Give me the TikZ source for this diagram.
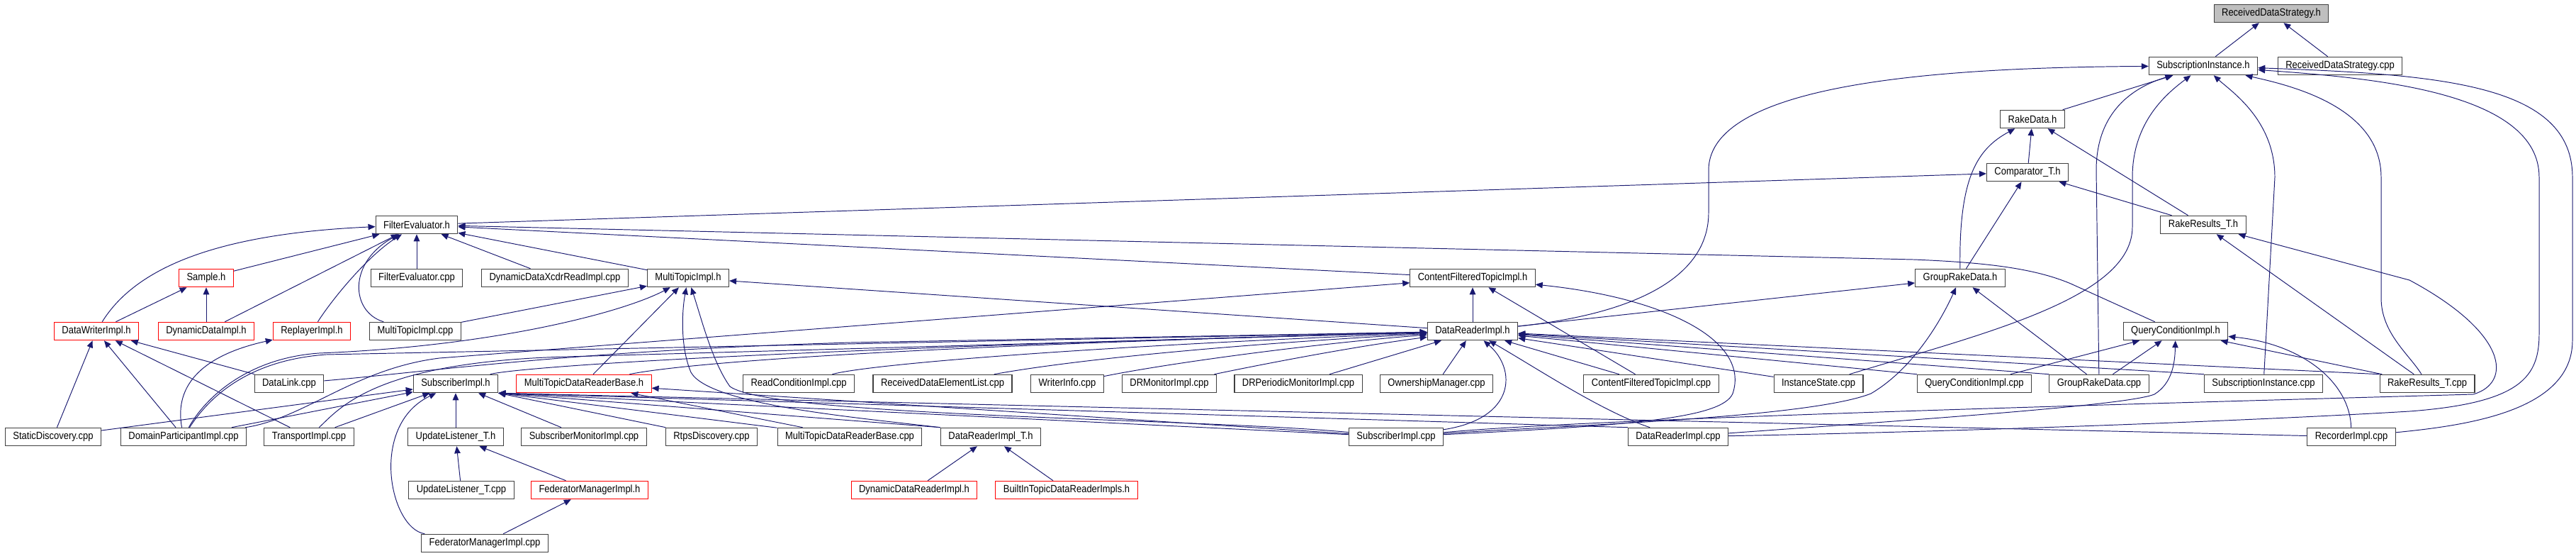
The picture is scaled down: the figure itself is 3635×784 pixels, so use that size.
\documentclass[tikz,border=0pt]{standalone}
\usepackage{fontspec}
\setmainfont[FakeStretch=0.88]{Liberation Sans}
\usepackage{xcolor}
\usetikzlibrary{arrows.meta}
\definecolor{edgeblue}{HTML}{191970}

\begin{document}
\begin{tikzpicture}[x=0.02cm, y=-0.02cm,
    box/.style={rectangle, draw=black!75, line width=0.6pt, fill=white, minimum height=0.51cm, inner xsep=0.22cm, inner ysep=0pt, font=\fontsize{8.4}{10}\selectfont},
    redbox/.style={box, draw=red},
    graybox/.style={box, fill=black!25},
    inc/.style={draw=edgeblue, line width=0.55pt, -{Triangle[length=0.2cm, width=0.17cm]}}]
    \useasboundingbox (0,0) rectangle (3635,784);

    \node[graybox] (rdsh) at (3205,19) {ReceivedDataStrategy.h};
    \node[box] (sih) at (3109,93) {SubscriptionInstance.h};
    \node[box] (rdscpp) at (3302,93) {ReceivedDataStrategy.cpp};
    \node[box] (rakeh) at (2868,168) {RakeData.h};
    \node[box] (comph) at (2861,243) {Comparator\_T.h};
    \node[box] (feh) at (588,317) {FilterEvaluator.h};
    \node[box] (rrh) at (3109,317) {RakeResults\_T.h};
    \node[redbox] (sampleh) at (291,392) {Sample.h};
    \node[box] (fecpp) at (588,392) {FilterEvaluator.cpp};
    \node[box] (xcdrcpp) at (783,392) {DynamicDataXcdrReadImpl.cpp};
    \node[box] (mth) at (971,392) {MultiTopicImpl.h};
    \node[box] (cfth) at (2078,392) {ContentFilteredTopicImpl.h};
    \node[box] (grdh) at (2766,392) {GroupRakeData.h};
    \node[redbox] (dwih) at (136,467) {DataWriterImpl.h};
    \node[redbox] (ddih) at (291,467) {DynamicDataImpl.h};
    \node[redbox] (replh) at (440,467) {ReplayerImpl.h};
    \node[box] (mtcpp) at (586,467) {MultiTopicImpl.cpp};
    \node[box] (drih) at (2078,467) {DataReaderImpl.h};
    \node[box] (qcih) at (3070,467) {QueryConditionImpl.h};
    \node[box] (dlcpp) at (408,541) {DataLink.cpp};
    \node[box] (subh) at (643,541) {SubscriberImpl.h};
    \node[redbox] (mtdrbh) at (824,541) {MultiTopicDataReaderBase.h};
    \node[box] (rccpp) at (1127,541) {ReadConditionImpl.cpp};
    \node[box] (rdelcpp) at (1330,541) {ReceivedDataElementList.cpp};
    \node[box] (wicpp) at (1506,541) {WriterInfo.cpp};
    \node[box] (drmcpp) at (1650,541) {DRMonitorImpl.cpp};
    \node[box] (drpmcpp) at (1832,541) {DRPeriodicMonitorImpl.cpp};
    \node[box] (omcpp) at (2027,541) {OwnershipManager.cpp};
    \node[box] (cftcpp) at (2330,541) {ContentFilteredTopicImpl.cpp};
    \node[box] (iscpp) at (2566,541) {InstanceState.cpp};
    \node[box] (qcicpp) at (2786,541) {QueryConditionImpl.cpp};
    \node[box] (grdcpp) at (2962,541) {GroupRakeData.cpp};
    \node[box] (sicpp) at (3194,541) {SubscriptionInstance.cpp};
    \node[box] (rrcpp) at (3425,541) {RakeResults\_T.cpp};
    \node[box] (sdcpp) at (75,616) {StaticDiscovery.cpp};
    \node[box] (dpicpp) at (259,616) {DomainParticipantImpl.cpp};
    \node[box] (ticpp) at (436,616) {TransportImpl.cpp};
    \node[box] (ulh) at (643,616) {UpdateListener\_T.h};
    \node[box] (smcpp) at (824,616) {SubscriberMonitorImpl.cpp};
    \node[box] (rtpscpp) at (1004,616) {RtpsDiscovery.cpp};
    \node[box] (mtdrbcpp) at (1199,616) {MultiTopicDataReaderBase.cpp};
    \node[box] (dritah) at (1398,616) {DataReaderImpl\_T.h};
    \node[box] (subcpp) at (1970,616) {SubscriberImpl.cpp};
    \node[box] (dricpp) at (2368,616) {DataReaderImpl.cpp};
    \node[box] (reccpp) at (3318,616) {RecorderImpl.cpp};
    \node[box] (ulcpp) at (651,691) {UpdateListener\_T.cpp};
    \node[redbox] (fmh) at (832,691) {FederatorManagerImpl.h};
    \node[redbox] (ddrh) at (1290,691) {DynamicDataReaderImpl.h};
    \node[redbox] (bitdrh) at (1505,691) {BuiltInTopicDataReaderImpls.h};
    \node[box] (fmcpp) at (684,766) {FederatorManagerImpl.cpp};

    \draw[inc] (sih) -- (rdsh);
    \draw[inc] (rdscpp) -- (rdsh);
    \draw[inc] (rakeh) -- (sih);
    \draw[inc] (drih) .. controls (2330,440) and (2411,380) .. (2411,300) -- (2411,240) .. controls (2411,115) and (2750,95) .. (sih);
    \draw[inc] (grdcpp) -- (2958,240) .. controls (2958,150) and (3020,120) .. (sih);
    \draw[inc] (iscpp) .. controls (2800,470) and (3009,420) .. (3009,320) -- (3009,250) .. controls (3009,170) and (3060,130) .. (sih);
    \draw[inc] (sicpp) -- (3210,250) .. controls (3210,170) and (3150,130) .. (sih);
    \draw[inc] (rrcpp) .. controls (3400,500) and (3360,470) .. (3360,420) -- (3360,250) .. controls (3360,150) and (3230,120) .. (sih);
    \draw[inc] (dricpp) .. controls (2800,608) and (3200,592) .. (3400,580) .. controls (3560,568) and (3583,530) .. (3583,470) -- (3583,250) .. controls (3583,130) and (3350,110) .. (sih);
    \draw[inc] (reccpp) .. controls (3480,600) and (3630,580) .. (3630,480) -- (3630,250) .. controls (3630,120) and (3450,105) .. (sih);

    \draw[inc] (comph) -- (rakeh);
    \draw[inc] (grdh) .. controls (2764,250) and (2790,210) .. (rakeh);
    \draw[inc] (rrh) -- (rakeh);
    \draw[inc] (grdh) -- (comph);
    \draw[inc] (rrh) -- (comph);
    \draw[inc] (feh) -- (comph);
    \draw[inc] (rrcpp) -- (rrh);
    \draw[inc] (subcpp) .. controls (2250,590) and (3000,570) .. (3490,556) .. controls (3545,540) and (3540,470) .. (3400,395) -- (rrh);

    \draw[inc] (sampleh) -- (feh);
    \draw[inc] (dwih) .. controls (190,380) and (300,330) .. (feh);
    \draw[inc] (dwih) -- (sampleh);
    \draw[inc] (ddih) -- (sampleh);
    \draw[inc] (ddih) -- (feh);
    \draw[inc] (replh) .. controls (470,420) and (520,360) .. (feh);
    \draw[inc] (mtcpp) .. controls (495,440) and (490,370) .. (feh);
    \draw[inc] (fecpp) -- (feh);
    \draw[inc] (xcdrcpp) -- (feh);
    \draw[inc] (mth) -- (feh);
    \draw[inc] (cfth) -- (feh);
    \draw[inc] (qcih) -- (2922,400) .. controls (2870,378) and (2800,370) .. (2700,366) -- (feh);

    \draw[inc] (sdcpp) -- (dwih);
    \draw[inc] (dpicpp) -- (dwih);
    \draw[inc] (ticpp) -- (dwih);
    \draw[inc] (dlcpp) -- (dwih);
    \draw[inc] (dpicpp) .. controls (245,540) and (290,500) .. (replh);
    \draw[inc] (dpicpp) .. controls (290,560) and (350,505) .. (450,498) .. controls (700,488) and (880,440) .. (mth);
    \draw[inc] (dpicpp) .. controls (430,590) and (500,520) .. (620,505) -- (cfth);
    \draw[inc] (dpicpp) .. controls (295,560) and (350,508) .. (460,500) -- (drih);
    \draw[inc] (dpicpp) -- (subh);
    \draw[inc] (ticpp) -- (subh);
    \draw[inc] (sdcpp) -- (subh);
    \draw[inc] (ticpp) .. controls (480,575) and (530,510) .. (800,503) -- (drih);
    \draw[inc] (dlcpp) .. controls (600,525) and (800,495) .. (1200,483) -- (drih);

    \draw[inc] (subh) .. controls (720,520) and (1000,495) .. (drih);
    \draw[inc] (mtdrbh) .. controls (950,515) and (1200,490) .. (drih);
    \draw[inc] (mtdrbh) -- (mth);
    \draw[inc] (rccpp) .. controls (1220,515) and (1500,490) .. (drih);
    \draw[inc] (rdelcpp) .. controls (1500,510) and (1700,488) .. (drih);
    \draw[inc] (wicpp) .. controls (1650,512) and (1850,485) .. (drih);
    \draw[inc] (drmcpp) .. controls (1760,518) and (1900,490) .. (drih);
    \draw[inc] (drpmcpp) -- (drih);
    \draw[inc] (omcpp) -- (drih);
    \draw[inc] (subcpp) .. controls (2140,590) and (2140,520) .. (drih);
    \draw[inc] (dricpp) .. controls (2260,580) and (2170,520) .. (drih);
    \draw[inc] (cftcpp) -- (drih);
    \draw[inc] (cftcpp) -- (cfth);
    \draw[inc] (iscpp) -- (drih);
    \draw[inc] (qcicpp.north west) -- (drih);
    \draw[inc] (grdcpp.north west) -- (drih);
    \draw[inc] (sicpp.north west) -- (drih);
    \draw[inc] (rrcpp.north west) -- (drih);
    \draw[inc] (drih) -- (mth);
    \draw[inc] (drih) -- (cfth);
    \draw[inc] (drih) -- (grdh);
    \draw[inc] (grdcpp) -- (grdh);
    \draw[inc] (subcpp) .. controls (2200,600) and (2550,590) .. (2640,555) .. controls (2700,520) and (2740,450) .. (grdh);
    \draw[inc] (subcpp) .. controls (2300,600) and (2430,590) .. (2445,555) .. controls (2470,480) and (2350,420) .. (cfth);
    \draw[inc] (subcpp) .. controls (1700,590) and (1090,588) .. (1030,545) .. controls (1005,510) and (990,450) .. (mth);
    \draw[inc] (dritah.north west) .. controls (1200,588) and (1000,570) .. (975,525) .. controls (960,490) and (962,440) .. (mth);

    \draw[inc] (dritah.north west) -- (subh.south east);
    \draw[inc] (mtdrbcpp) -- (subh.south east);
    \draw[inc] (rtpscpp) -- (subh.south east);
    \draw[inc] (subcpp) -- (subh.south east);
    \draw[inc] (dricpp.north west) -- (subh.south east);
    \draw[inc] (reccpp) -- (subh.south east);
    \draw[inc] (smcpp) -- (subh);
    \draw[inc] (ulh) -- (subh);
    \draw[inc] (fmcpp) .. controls (550,745) and (520,600) .. (subh);
    \draw[inc] (ulcpp) -- (ulh);
    \draw[inc] (fmh) -- (ulh);
    \draw[inc] (fmcpp) -- (fmh);
    \draw[inc] (mtdrbcpp) -- (mtdrbh);
    \draw[inc] (subcpp) -- (mtdrbh);
    \draw[inc] (mtcpp) -- (mth);
    \draw[inc] (ddrh) -- (dritah);
    \draw[inc] (bitdrh) -- (dritah);

    \draw[inc] (reccpp) .. controls (3316,540) and (3250,485) .. (qcih);
    \draw[inc] (qcicpp) -- (qcih);
    \draw[inc] (grdcpp) -- (qcih);
    \draw[inc] (rrcpp) -- (qcih);
    \draw[inc] (dricpp) .. controls (2700,592) and (3000,572) .. (3040,556) .. controls (3066,540) and (3069,510) .. (qcih);
\end{tikzpicture}
\end{document}
